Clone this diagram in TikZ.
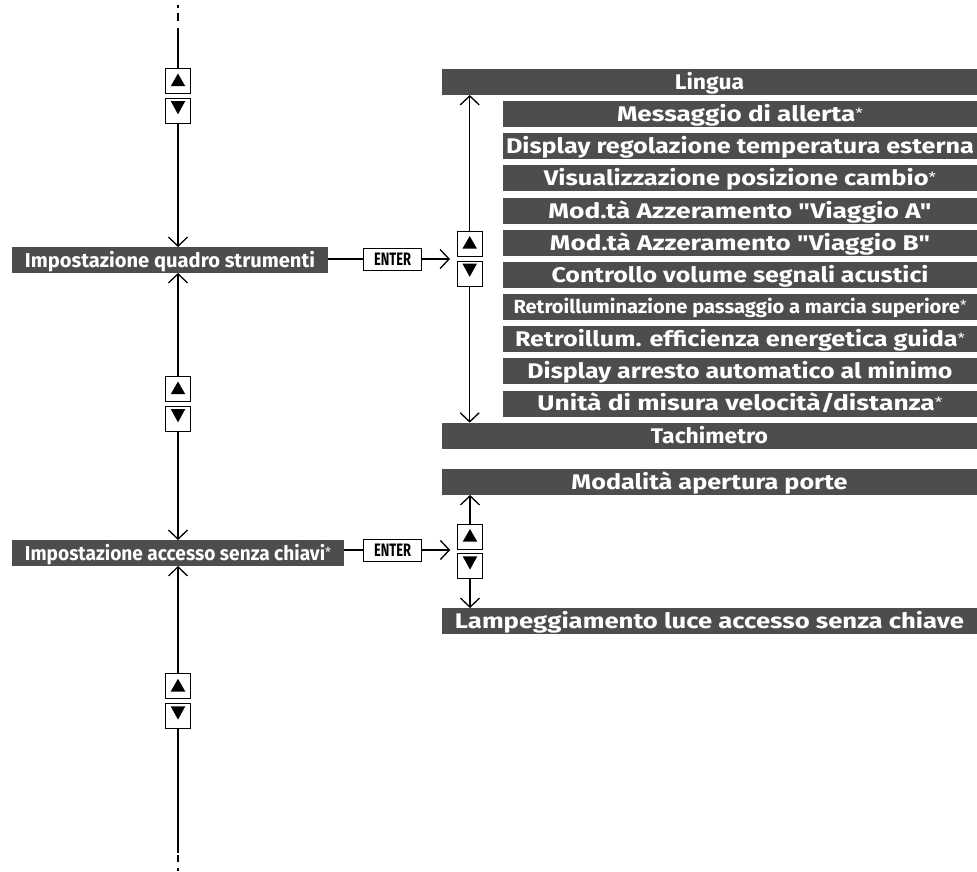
\documentclass[tikz,border=0pt]{standalone}
\usepackage{fontspec}
\usepackage{graphicx}
\newfontfamily\lab{Fira Sans}
\usetikzlibrary{arrows.meta}
\definecolor{barcol}{HTML}{4D4D4D}
\newcommand\fw[2]{\resizebox{#1pt}{\height}{#2}}
\newcommand\stern{\raisebox{3pt}{\fontsize{14}{14}\selectfont\mdseries *}}
\begin{document}
\begin{tikzpicture}[x=1pt,y=-1pt,
  >={Straight Barb[length=9pt,width=19pt]},
  line width=1.3pt,
  bar/.style={fill=barcol,text=white,inner sep=0pt,outer sep=0pt,minimum height=26pt,
    text height=14.8pt,text depth=0pt,font=\lab\bfseries\fontsize{21.2}{22}\selectfont},
  wide/.style={bar,minimum width=535pt},
  narrow/.style={bar,minimum width=474pt},
  side/.style={bar,font=\lab\bfseries\fontsize{20}{21}\selectfont,text height=14pt},
  keybox/.style={draw,line width=1pt,fill=white,minimum width=25pt,minimum height=25pt,inner sep=0pt},
  upkey/.style={keybox,path picture={\fill[black] ([yshift=-5pt]path picture bounding box.north) -- ++(7.3pt,-12.7pt) -- ++(-14.6pt,0pt) -- cycle;}},
  downkey/.style={keybox,path picture={\fill[black] ([yshift=-2.5pt,xshift=-7.3pt]path picture bounding box.north) -- ++(14.6pt,0pt) -- ++(-7.3pt,-13.3pt) -- cycle;}},
  enterkey/.style={draw,line width=1pt,fill=white,minimum width=58pt,minimum height=22pt,inner sep=0pt,
    text height=12.4pt,text depth=0pt,font=\lab\bfseries\fontsize{18}{18}\selectfont}
]
\useasboundingbox (0,0) rectangle (977,871);

% right column, first menu
\node[wide]   (L0)  at (709.5,82)     {\scalebox{1.08}[1]{Lingua}};
\node[narrow] (L1)  at (740,114.15)   {\fw{246}{Messaggio di allerta\stern}};
\node[narrow] (L2)  at (740,146.3)    {\fw{468}{Display regolazione temperatura esterna}};
\node[narrow] (L3)  at (740,178.45)   {\fw{392}{Visualizzazione posizione cambio\stern}};
\node[narrow] (L4)  at (740,210.6)    {\fw{383}{Mod.tà Azzeramento "Viaggio A"}};
\node[narrow] (L5)  at (740,242.75)   {\fw{380}{Mod.tà Azzeramento "Viaggio B"}};
\node[narrow] (L6)  at (740,274.9)    {\fw{377}{Controllo volume segnali acustici}};
\node[narrow,font=\lab\bfseries\fontsize{19}{20}\selectfont,text height=13.3pt] (L7) at (740,307.05) {\fw{453}{Retroilluminazione passaggio a marcia superiore\stern}};
\node[narrow] (L8)  at (740,339.2)    {\fw{450}{Retroillum. efficienza energetica guida\stern}};
\node[narrow] (L9)  at (740,371.35)   {\fw{425}{Display arresto automatico al minimo}};
\node[narrow] (L10) at (740,403.5)    {\fw{405}{Unità di misura velocità/distanza\stern}};
\node[wide]   (L11) at (709.5,435.65) {\scalebox{1.08}[1]{Tachimetro}};

% right column, second menu
\node[wide] (M0) at (709.5,482) {\fw{276}{Modalità apertura porte}};
\node[wide] (M1) at (709.5,621) {\fw{509}{Lampeggiamento luce accesso senza chiave}};

% left column
\node[upkey]   (u1) at (178,81) {};
\node[downkey] (d1) at (178,111) {};
\node[side,minimum width=316pt] (b1) at (170,260) {\fw{290}{Impostazione quadro strumenti}};
\node[upkey]   (u2) at (178,389) {};
\node[downkey] (d2) at (178,419) {};
\node[side,minimum width=332pt] (b2) at (178,553) {\fw{306}{Impostazione accesso senza chiavi\stern}};
\node[upkey]   (u3) at (178,686.3) {};
\node[downkey] (d3) at (178,716.3) {};
\coordinate (c0) at (178,5);
\coordinate (c1) at (178,871);

% ENTER keys and right key pairs
\node[enterkey] (E1) at (392.5,259) {\fw{37}{ENTER}};
\node[enterkey] (E2) at (392.5,550) {\fw{37}{ENTER}};
\node[upkey]   (ru1) at (469.7,243.5) {};
\node[downkey] (rd1) at (469.7,273.5) {};
\node[upkey]   (ru2) at (470,536.5) {};
\node[downkey] (rd2) at (470,566.3) {};

% left column connectors
\draw[dash pattern=on 3pt off 5pt on 8pt off 7pt on 60pt off 0pt] (c0) -- (u1.north);
\draw[->] (d1.south) -- (d1.south |- b1.north);
\draw[<-] (b1.south -| u2.north) -- (u2.north);
\draw[->] (d2.south) -- (d2.south |- b2.north);
\draw[<-] (b2.south -| u3.north) -- (u3.north);
\draw[dash pattern=on 123.4pt off 2.3pt on 6.7pt off 6.6pt on 5pt off 0pt] (d3.south) -- (c1);

% horizontal connectors
\draw (E1.west -| b1.east) -- (E1.west);
\draw[->,shorten >=6.7pt] (E1.east) -- (E1.east -| ru1.west);
\draw (E2.west -| b2.east) -- (E2.west);
\draw[->,shorten >=6.7pt] (E2.east) -- (E2.east -| ru2.west);

% right column connectors
\draw[->] (ru1.north) -- (ru1.north |- L0.south);
\draw[->] (rd1.south) -- (rd1.south |- L11.north);
\draw[->] (ru2.north) -- (ru2.north |- M0.south);
\draw[->] (rd2.south) -- (rd2.south |- M1.north);
\end{tikzpicture}
\end{document}
